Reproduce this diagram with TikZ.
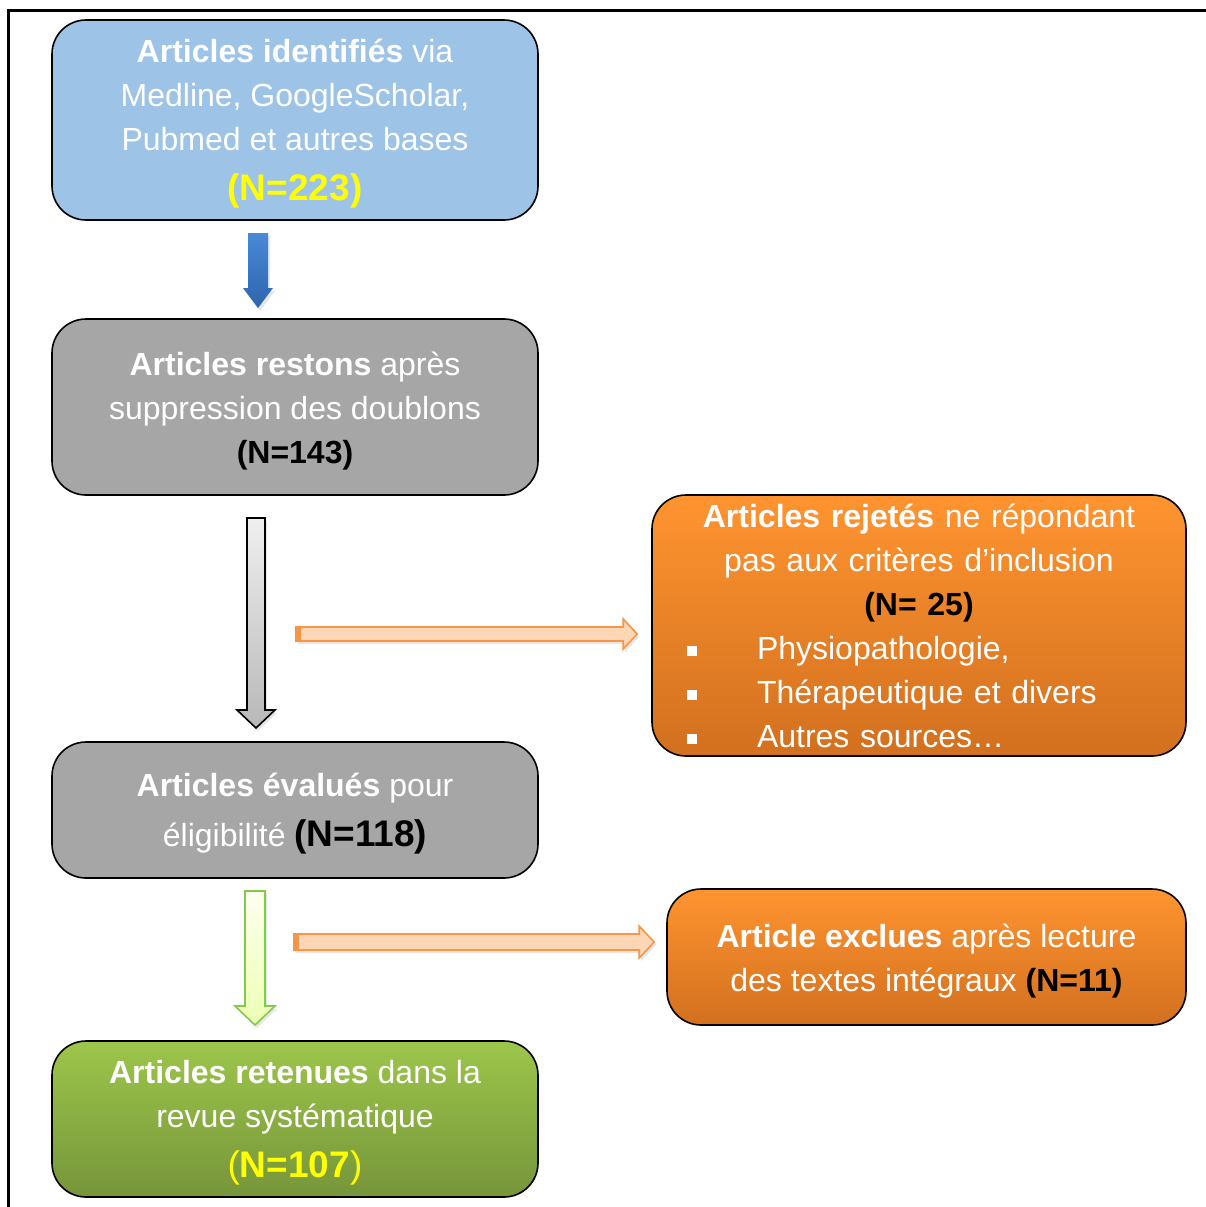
\documentclass[tikz,border=0pt]{standalone}
\usepackage{fontspec}
\setmainfont{Liberation Sans}
\usetikzlibrary{calc,shadows}

\definecolor{bleuboite}{HTML}{9DC3E6}
\definecolor{grisboite}{HTML}{A6A6A6}
\definecolor{orangehaut}{HTML}{FF9430}
\definecolor{orangebas}{HTML}{D2701F}
\definecolor{verthaut}{HTML}{9DC64B}
\definecolor{vertbas}{HTML}{76953A}
\definecolor{jaune}{HTML}{FFFF00}
\definecolor{orangetrait}{HTML}{F79646}
\definecolor{orangeclair}{HTML}{FDD6B6}
\definecolor{bleuhaut}{HTML}{4A89D6}
\definecolor{bleubas}{HTML}{2E64AE}

% fleche epaisse vers le bas : style, depart, pointe, demi-corps, demi-tete, longueur tete
\newcommand{\flechebas}[6]{%
  \draw[#1] let \p1=(#2), \p2=(#3) in
    (\x1-#4,\y1) -- (\x1+#4,\y1) -- (\x1+#4,\y2+#6) -- (\x1+#5,\y2+#6)
    -- (\x2,\y2) -- (\x1-#5,\y2+#6) -- (\x1-#4,\y2+#6) -- cycle;}
% fleche epaisse vers la droite
\newcommand{\flechedroite}[6]{%
  \draw[#1] let \p1=(#2), \p2=(#3) in
    (\x1,\y1-#4) -- (\x2-#6,\y1-#4) -- (\x2-#6,\y1-#5) -- (\x2,\y1)
    -- (\x2-#6,\y1+#5) -- (\x2-#6,\y1+#4) -- (\x1,\y1+#4) -- cycle;}

\tikzset{
  etape/.style={draw=black, line width=0.8pt, rounded corners=17pt, text=white,
    align=center, inner sep=0pt, font=\fontsize{16}{22}\selectfont},
  ombre/.style={drop shadow={opacity=0.2, shadow xshift=1pt, shadow yshift=-1.5pt}},
  versdroite/.style={fill=orangeclair, draw=orangetrait, line width=0.8pt, ombre},
}
\newcommand{\grand}{\fontsize{18.5}{24}\selectfont\bfseries}
\newcommand{\haut}{\rule{0pt}{15.5pt}}
\newcommand{\puce}[1]{\makebox[267pt][l]{\hspace{17.5pt}\makebox[35pt][l]{\rule[1.8pt]{5pt}{5pt}}#1}}

\begin{document}
\begin{tikzpicture}[x=0.5pt,y=-0.5pt]
  \useasboundingbox (0,0) rectangle (1206,1207);
  \draw[line width=1.5pt] (8,1207) -- (8,10) -- (1206,10);

  \node[etape, fill=bleuboite, minimum width=243pt, minimum height=100pt] (ident) at (295,120)
    {\rule{0pt}{15pt}\textbf{Articles identifiés} via\\ Medline, GoogleScholar,\\ Pubmed et autres bases\\[3pt]
     {\grand\color{jaune}(N=223)}};
  \node[etape, fill=grisboite, minimum width=243pt, minimum height=88pt] (restons) at (295,407)
    {\haut\textbf{Articles restons} après\\ suppression des doublons\\ \textbf{\color{black}(N=143)}};
  \node[etape, fill=grisboite, minimum width=243pt, minimum height=68pt] (evalues) at (295,810)
    {\haut\textbf{Articles évalués} pour\\[3pt] éligibilité {\grand\color{black}(N=118)}};
  \node[etape, top color=orangehaut, bottom color=orangebas, minimum width=267pt,
    minimum height=130.5pt, text width=267pt] (rejetes) at (919,625.5)
    {\textbf{Articles rejetés} ne répondant\\ pas aux critères d’inclusion\\
     \textbf{\color{black}(N= 25)}\\ \puce{Physiopathologie,}\\
     \puce{Thérapeutique et divers}\\ \puce{Autres sources…}};
  \node[etape, top color=orangehaut, bottom color=orangebas, minimum width=259.5pt,
    minimum height=68pt] (exclues) at (926.5,957)
    {\rule{0pt}{16pt}\textbf{Article exclues} après lecture\\ des textes intégraux \textbf{\color{black}(N=11)}};
  \node[etape, top color=verthaut, bottom color=vertbas, minimum width=243pt,
    minimum height=78pt] (retenues) at (295,1119)
    {\haut\textbf{Articles retenues} dans la\\ revue systématique\\[3pt]
     {\fontsize{18.5}{24}\selectfont\color{jaune}(\textbf{N=107})}};

  % extremites des fleches
  \coordinate (f1a) at (258,233);  \coordinate (f1b) at (258,308);
  \coordinate (f2a) at (256,518);  \coordinate (f2b) at (256,728);
  \coordinate (f3a) at (255,891);  \coordinate (f3b) at (255,1025);
  \coordinate (h1a) at (296,634);  \coordinate (h1b) at (rejetes.west |- h1a);
  \coordinate (h2a) at (294,942);  \coordinate (h2b) at (exclues.west |- h2a);

  \flechebas{top color=bleuhaut, bottom color=bleubas, draw=none, ombre}{f1a}{f1b}{5pt}{7.5pt}{10pt}
  \flechebas{top color=black!6, bottom color=black!28, draw=black, line width=0.8pt, ombre}{f2a}{f2b}{4.5pt}{9.5pt}{9pt}
  \flechebas{top color=green!8!yellow!6, bottom color=green!25!yellow!30, draw=green!40!olive!70, line width=0.8pt, ombre}{f3a}{f3b}{5pt}{10pt}{9.5pt}
  \flechedroite{versdroite}{h1a}{$(h1b)+(-14,0)$}{3.5pt}{7.5pt}{7pt}
  \flechedroite{versdroite}{h2a}{$(h2b)+(-12,0)$}{4pt}{8pt}{7.5pt}
  \fill[orangetrait] ($(h1a)+(0,-7)$) rectangle ($(h1a)+(5,7)$);
  \fill[orangetrait] ($(h2a)+(0,-8)$) rectangle ($(h2a)+(5,8)$);
\end{tikzpicture}
\end{document}
